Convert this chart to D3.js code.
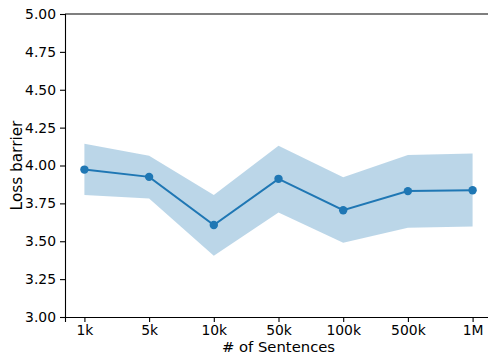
<!DOCTYPE html>
<html>
<head>
<meta charset="utf-8">
<script src="https://cdn.jsdelivr.net/npm/d3@7"></script>
<style>
  body { margin: 0; background: #fff; }
  svg { display: block; font-family: 'DejaVu Sans', sans-serif; }
</style>
</head>
<body>
<div id="chart"></div>
<script>
// Data
const categories = ['1k', '5k', '10k', '50k', '100k', '500k', '1M'];
const meanLoss = [3.973, 3.925, 3.607, 3.912, 3.705, 3.831, 3.837];
const upperLoss = [4.143, 4.064, 3.806, 4.130, 3.923, 4.070, 4.079];
const lowerLoss = [3.806, 3.782, 3.404, 3.690, 3.490, 3.589, 3.597];
const yTicks = [3.00, 3.25, 3.50, 3.75, 4.00, 4.25, 4.50, 4.75, 5.00];

const width = 488;
const height = 355;
const margin = { top: 14, right: -4, bottom: 38, left: 65 };
const plotWidth = width - margin.left - margin.right;
const plotHeight = height - margin.top - margin.bottom;

const blue = '#1f77b4';

const svg = d3.select('#chart')
  .append('svg')
  .attr('width', width)
  .attr('height', height);

const g = svg.append('g')
  .attr('transform', `translate(${margin.left},${margin.top})`);

// X scale: index-based with matplotlib's 5% margins
const n = categories.length;
const x = d3.scaleLinear()
  .domain([-0.05 * (n - 1), (n - 1) * 1.05])
  .range([0, plotWidth]);

const y = d3.scaleLinear()
  .domain([3, 5])
  .range([plotHeight, 0]);

const data = categories.map((c, i) => ({
  i, c, mean: meanLoss[i], lo: lowerLoss[i], hi: upperLoss[i]
}));

// Shaded band
const area = d3.area()
  .x(d => x(d.i))
  .y0(d => y(d.lo))
  .y1(d => y(d.hi));

g.append('path')
  .datum(data)
  .attr('d', area)
  .attr('fill', blue)
  .attr('fill-opacity', 0.3);

// Mean line
const line = d3.line()
  .x(d => x(d.i))
  .y(d => y(d.mean));

g.append('path')
  .datum(data)
  .attr('d', line)
  .attr('fill', 'none')
  .attr('stroke', blue)
  .attr('stroke-width', 2);

g.selectAll('.pt')
  .data(data)
  .enter()
  .append('circle')
  .attr('class', 'pt')
  .attr('cx', d => x(d.i))
  .attr('cy', d => y(d.mean))
  .attr('r', 4.2)
  .attr('fill', blue);

// Axes
const xAxis = g.append('g')
  .attr('transform', `translate(0,${plotHeight})`)
  .call(d3.axisBottom(x)
    .tickValues(d3.range(n))
    .tickFormat(i => categories[i])
    .tickSizeOuter(0)
    .tickSize(5)
    .tickPadding(3));

const yAxis = g.append('g')
  .call(d3.axisLeft(y)
    .tickValues(yTicks)
    .tickFormat(d3.format('.2f'))
    .tickSizeOuter(0)
    .tickSize(5)
    .tickPadding(4));

[xAxis, yAxis].forEach(a => {
  a.selectAll('text')
    .style('font-size', '13.9px')
    .style('font-family', 'DejaVu Sans, sans-serif')
    .attr('fill', '#000');
  a.selectAll('line').attr('stroke', '#000').attr('stroke-width', 1.1);
  a.select('.domain').attr('stroke', '#000').attr('stroke-width', 1.1);
});

// Top spine
g.append('line')
  .attr('x1', 0)
  .attr('x2', plotWidth)
  .attr('y1', 0)
  .attr('y2', 0)
  .attr('stroke', '#000')
  .attr('stroke-width', 1.1);

// Axis labels
svg.append('text')
  .attr('x', margin.left + x(3))
  .attr('y', 351.5)
  .attr('text-anchor', 'middle')
  .style('font-size', '14.8px')
  .attr('fill', '#000')
  .text('# of Sentences');

svg.append('text')
  .attr('transform', `translate(22,${margin.top + plotHeight / 2}) rotate(-90)`)
  .attr('text-anchor', 'middle')
  .style('font-size', '15.3px')
  .attr('fill', '#000')
  .text('Loss barrier');
</script>
</body>
</html>
